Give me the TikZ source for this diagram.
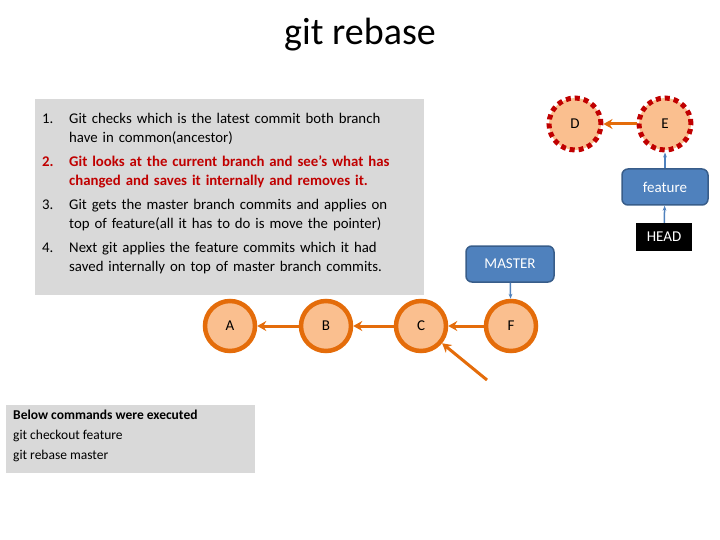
\documentclass[tikz,border=0pt]{standalone}
\usepackage{fontspec}
\setmainfont{Carlito}
\usetikzlibrary{arrows.meta}
\definecolor{org}{RGB}{228,108,10}
\definecolor{peach}{RGB}{250,191,143}
\definecolor{boxblue}{RGB}{79,129,189}
\definecolor{boxedge}{RGB}{56,93,138}
\definecolor{dred}{RGB}{192,0,0}
\definecolor{txtred}{RGB}{192,0,0}
\definecolor{panel}{RGB}{217,217,217}
\begin{document}
\begin{tikzpicture}[x=1pt,y=-1pt,
commit/.style={circle,draw=org,line width=4.5pt,fill=peach,minimum size=50pt,inner sep=0pt,font=\fontsize{15}{18}\selectfont},
lost/.style={circle,draw=dred,line width=5pt,dash pattern=on 5pt off 4pt,fill=peach,minimum size=52pt,inner sep=0pt,font=\fontsize{15}{18}\selectfont},
branch/.style={rounded corners=6pt,draw=boxedge,line width=1.5pt,fill=boxblue,text=white,font=\fontsize{15}{18}\selectfont,minimum height=36pt},
parent/.style={-{Stealth[length=9pt,width=10pt]},draw=org,line width=3pt},
ptr/.style={-{Stealth[length=5pt]},draw=boxblue,line width=1.5pt}
]
\useasboundingbox (0,0) rectangle (720,540);
\node (title) at (360,35) {\fontsize{38}{44}\selectfont git rebase};
\fill[panel] (35,99) rectangle (424,295);
\node[anchor=north west,text width=375pt,font=\fontsize{14.8}{19}\selectfont,inner sep=0pt] (steps) at (42,104) {%
\begin{list}{}{\leftmargin=27pt\labelwidth=20pt\labelsep=7pt\itemsep=5pt\parsep=0pt\topsep=0pt}
\item[1.\hfill] Git checks which is the latest commit both branch\newline have in common(ancestor)
\item[\color{txtred}\bfseries 2.\hfill] {\color{txtred}\bfseries Git looks at the current branch and see's what has\newline changed and saves it internally and removes it.}
\item[3.\hfill] Git gets the master branch commits and applies on\newline top of feature(all it has to do is move the pointer)
\item[4.\hfill] Next git applies the feature commits which it had\newline saved internally on top of master branch commits.
\end{list}};
\fill[panel] (6,405) rectangle (255,473);
\node[anchor=north west,align=left,font=\fontsize{13.5}{20}\selectfont,inner sep=0pt] (cmds) at (13,410) {{\bfseries Below commands were executed}\\git checkout feature\\git rebase master};
\node[commit] (A) at (230,326) {A};
\node[commit] (B) at (326,326) {B};
\node[commit] (C) at (421,326) {C};
\node[commit] (F) at (511,326) {F};
\node[lost] (D) at (575,124) {D};
\node[lost] (E) at (665,124) {E};
\node[branch,minimum width=86pt] (feature) at (665,187) {feature};
\node[branch,minimum width=88pt] (master) at (510,264) {MASTER};
\node[fill=black,text=white,font=\fontsize{15}{18}\selectfont,minimum width=56pt,minimum height=28pt] (head) at (664,237) {HEAD};
\coordinate (tail) at (487,380);
\draw[parent] (B) -- (A);
\draw[parent] (C) -- (B);
\draw[parent] (F) -- (C);
\draw[parent] (tail) -- (C);
\draw[parent] (E) -- (D);
\draw[ptr] (feature) -- (E);
\draw[ptr] (head) -- (feature);
\draw[ptr] (master) -- (F);
\end{tikzpicture}
\end{document}
